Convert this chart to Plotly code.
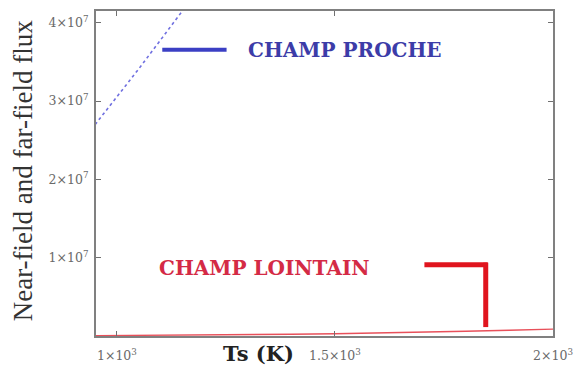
import plotly.graph_objects as go

# Surface temperature (K) and radiative flux for the two regimes
near_T = [950, 1000, 1050, 1100, 1150, 1200]
near_flux = [2.70e7, 3.05e7, 3.41e7, 3.78e7, 4.15e7, 4.52e7]

far_T = [950, 1000, 1100, 1200, 1300, 1400, 1500, 1600, 1700, 1800, 1900, 2000]
far_flux = [5e4, 6e4, 8e4, 1.2e5, 1.6e5, 2.2e5, 2.9e5, 3.7e5, 4.7e5, 6.0e5, 7.4e5, 8.8e5]

x_ticks = [1000, 1500, 2000]
x_ticktext = ["1×10<sup>3</sup>", "1.5×10<sup>3</sup>", "2×10<sup>3</sup>"]
y_ticks = [1e7, 2e7, 3e7, 4e7]
y_ticktext = ["1×10<sup>7</sup>", "2×10<sup>7</sup>", "3×10<sup>7</sup>", "4×10<sup>7</sup>"]

W, H = 582, 372
L, R, T, B = 96, 24, 9, 35
PW, PH = W - L - R, H - T - B


def px(x):
    return (x - L) / PW


def py(y):
    return 1 - (y - T) / PH


SERIF = "Liberation Serif, Times New Roman, serif"
WIDE_SERIF = "DejaVu Serif, serif"

fig = go.Figure()
fig.add_trace(go.Scatter(x=near_T, y=near_flux, mode="lines",
                         line=dict(color="#7070e0", width=1.6, dash="dot"),
                         showlegend=False))
fig.add_trace(go.Scatter(x=far_T, y=far_flux, mode="lines",
                         line=dict(color="#e8505a", width=1.4),
                         showlegend=False))

axis_common = dict(showgrid=False, zeroline=False, showline=True, mirror="ticks",
                   linecolor="#808080", linewidth=2, ticks="inside", ticklen=5,
                   tickcolor="#707070", tickwidth=1,
                   tickfont=dict(family=WIDE_SERIF, size=12.5, color="#6a6a6a"))

fig.update_xaxes(range=[952, 2000], tickvals=x_ticks, ticktext=x_ticktext,
                 ticklabelstandoff=7, **axis_common)
fig.update_yaxes(range=[0, 4.15e7], tickvals=y_ticks, ticktext=y_ticktext,
                 ticklabelstandoff=3, **axis_common)

# Hand-drawn key
fig.add_shape(type="line", xref="paper", yref="paper",
              x0=px(163), x1=px(228), y0=py(48), y1=py(48),
              line=dict(color="#3b3fc4", width=4))
fig.add_annotation(text="<b>CHAMP PROCHE</b>", xref="paper", yref="paper",
                   x=px(248), y=py(48), xanchor="left", yanchor="middle",
                   showarrow=False, font=dict(family=WIDE_SERIF, size=20, color="#3c3ca8"))
fig.add_annotation(text="<b>CHAMP LOINTAIN</b>", xref="paper", yref="paper",
                   x=px(158), y=py(268), xanchor="left", yanchor="middle",
                   showarrow=False, font=dict(family=WIDE_SERIF, size=20, color="#d42a45"))
fig.add_shape(type="line", xref="paper", yref="paper",
              x0=px(428), x1=px(492), y0=py(265), y1=py(265),
              line=dict(color="#e0141e", width=5))
fig.add_shape(type="line", xref="paper", yref="paper",
              x0=px(490), x1=px(490), y0=py(263), y1=py(328),
              line=dict(color="#e0141e", width=5))

# Axis titles
fig.add_annotation(text="<b>Ts (K)</b>", xref="paper", yref="paper",
                   x=px(260), y=py(355), xanchor="center", yanchor="middle",
                   showarrow=False, font=dict(family=WIDE_SERIF, size=21, color="#222222"))
fig.add_annotation(text="Near-field and far-field flux", xref="paper", yref="paper",
                   x=px(22), y=py(170), xanchor="center", yanchor="middle",
                   textangle=-90, showarrow=False,
                   font=dict(family=SERIF, size=27, color="#333333"))

fig.update_layout(width=W, height=H, margin=dict(l=L, r=R, t=T, b=B),
                  paper_bgcolor="white", plot_bgcolor="white", showlegend=False)

fig.write_html("out.html")
